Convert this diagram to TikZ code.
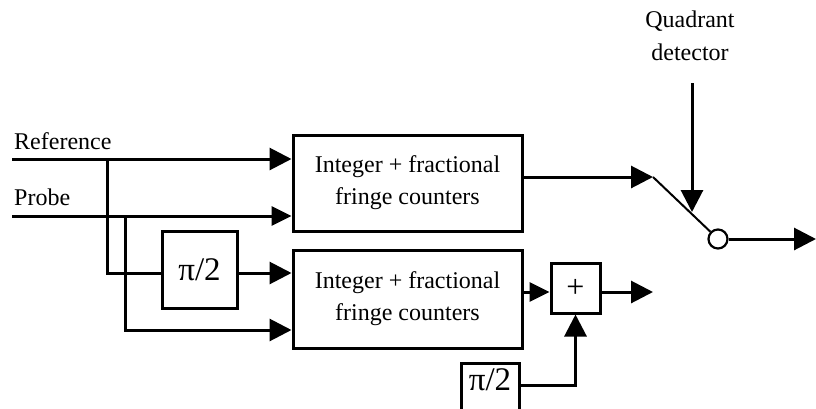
\documentclass[tikz,border=0pt]{standalone}
\usepackage{fontspec}
\setmainfont{Liberation Serif}
\usetikzlibrary{arrows.meta,calc}
\begin{document}
\begin{tikzpicture}[x=1pt,y=-1pt,
  wire/.style={line width=3pt},
  arr/.style={wire,-{Triangle[length=22pt,width=22pt]}},
  sarr/.style={wire,-{Triangle[length=20pt,width=19pt]}},
  counter/.style={draw,line width=3pt,minimum width=229pt,minimum height=96pt,
    align=center,font=\fontsize{24}{32}\selectfont,inner sep=0pt},
  phase/.style={draw,line width=3pt,inner sep=0pt,font=\fontsize{33}{34}\selectfont},
  lbl/.style={font=\fontsize{24}{33}\selectfont,inner sep=0pt}]
\useasboundingbox (0,0) rectangle (816,408);

% counter blocks
\node[counter] (c1) at (407.5,183) {Integer + fractional\\fringe counters};
\node[counter,minimum height=98pt] (c2) at (407.5,299) {Integer + fractional\\fringe counters};

% phase shifters and summing junction
\node[phase,minimum width=75pt,minimum height=77pt] (p1) at (199.5,269.5) {π/2};
\node[phase,minimum width=58pt,minimum height=54pt,anchor=north,text depth=22pt] (p2) at (490,362) {π/2};
\node[draw,line width=3pt,minimum width=49pt,minimum height=50pt,inner sep=0pt,
  font=\fontsize{32}{32}\selectfont] (sum) at (575.5,288) {+};

% input labels
\node[lbl,anchor=west] (ref) at (14,141) {Reference};
\node[lbl,anchor=west] (probe) at (14,197) {Probe};
\node[lbl,align=center] (qd) at (690,36) {Quadrant\\detector};

% input wires
\coordinate (rin) at (12,159);
\coordinate (pin) at (12,216);
\coordinate (rb) at (107,159);
\coordinate (pb) at (125,216);
\draw[arr] (rin) -- (rin -| c1.west);
\draw[sarr] (pin) -- (pin -| c1.west);
\draw[wire] (rb) -- (rb |- 0,273) -- (p1.west |- 0,273);
\draw[arr] (p1.east |- 0,273) -- (c2.west |- 0,273);
\draw[arr] (pb) -- (pb |- 0,330) -- (c2.west |- 0,330);

% switch
\coordinate (sw) at (653,177);
\node[draw,circle,line width=2.2pt,minimum size=19pt,inner sep=0pt,fill=white] (pole) at (718,239) {};
\coordinate (out) at (816,239);
\coordinate (qdin) at (692,83);
\draw[arr] (c1.east |- sw) -- (sw);
\draw[line width=2pt] (sw) -- (pole);
\draw[arr] (qdin) -- (692,212);
\draw[arr] (pole) -- (out);

% lower channel output
\coordinate (sout) at (653,292);
\draw[sarr] (c2.east |- 0,292) -- (sum.west |- 0,292);
\draw[arr] (sum.east |- sout) -- (sout);
\draw[arr] (p2.east |- 0,385) -- (sum.south |- 0,385) -- (sum.south);
\end{tikzpicture}
\end{document}
